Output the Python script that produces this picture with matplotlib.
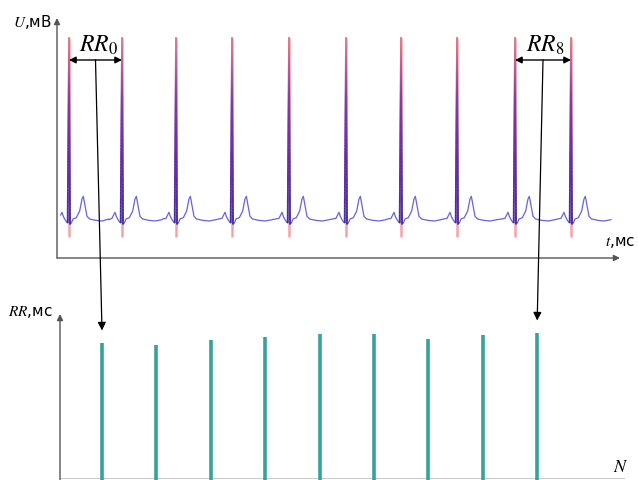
import numpy as np
import matplotlib
matplotlib.use("Agg")
import matplotlib.pyplot as plt
from matplotlib.collections import LineCollection
from matplotlib.colors import LinearSegmentedColormap
from matplotlib.patches import ConnectionPatch

plt.rcParams['font.family'] = ['DejaVu Sans']
plt.rcParams['mathtext.fontset'] = 'stix'

# R-peak times, ms
r_peaks_ms = [0, 795, 1605, 2445, 3300, 4155, 4980, 5820, 6690, 7530]
# one beat: offset from R (ms), amplitude (mV)
beat_t = [-200, -150, -125, -105, -85, -65, -40, -20, 0, 15, 35, 60,
          110, 160, 195, 215, 240, 270, 310, 400, 500, 600]
beat_u = [0.0, 0.005, 0.03, 0.05, 0.02, 0.0, -0.02, -0.03, 1.36, -0.04, -0.03, 0.0,
          0.01, 0.06, 0.15, 0.17, 0.10, 0.02, 0.0, -0.01, -0.015, -0.005]
t_start, t_end = -135, 8160
# RR intervals shown in the lower panel, ms
rr_ms = [810, 798, 828, 846, 864, 864, 834, 858, 870]
rr_labels = {0: "$RR_0$", 8: "$RR_8$"}

W, H = 638, 480
fig = plt.figure(figsize=(W / 100, H / 100), dpi=100)


def box(x0, y0, x1, y1):
    # pixel box (top-left origin) -> figure rect
    return [x0 / W, 1 - y1 / H, (x1 - x0) / W, (y1 - y0) / H]


ax_top = fig.add_axes(box(57, 18, 620, 258))
ax_bot = fig.add_axes(box(60, 314, 625, 480))
for ax in (ax_top, ax_bot):
    ax.set_axis_off()

px_ms, px_mv = 15.0, 0.0075
ax_top.set_xlim(t_start - 45, t_start - 45 + 563 * px_ms)
ax_top.set_ylim(-39 * px_mv, 201 * px_mv)

# build ECG from the beat template
ts, us = [], []
for r in r_peaks_ms:
    for dt, u in zip(beat_t, beat_u):
        if t_start <= r + dt <= t_end:
            ts.append(r + dt)
            us.append(u)
ts = np.array(ts)
us = np.array(us)
order = np.argsort(ts)
ts, us = ts[order], us[order]

ax_top.vlines(r_peaks_ms, -0.135, max(beat_u), color='#f29a9a', lw=1.8, alpha=0.9, zorder=1)
ax_top.plot(ts, us, color='#6464dc', lw=0.9, zorder=2)

# gradient on R spikes
cmap = LinearSegmentedColormap.from_list('spk', ['#4a2a9a', '#6a2aa0', '#8a3aa0', '#e08090'])
i_q, i_r, i_s = beat_t.index(-20), beat_t.index(0), beat_t.index(15)
for r in r_peaks_ms:
    for a, b in ((i_q, i_r), (i_r, i_s)):
        x = np.linspace(r + beat_t[a], r + beat_t[b], 60)
        y = np.linspace(beat_u[a], beat_u[b], 60)
        pts = np.column_stack([x, y]).reshape(-1, 1, 2)
        seg = np.concatenate([pts[:-1], pts[1:]], axis=1)
        lc = LineCollection(seg, cmap=cmap, norm=plt.Normalize(0, 1.36), lw=1.3, zorder=3)
        lc.set_array((y[:-1] + y[1:]) / 2)
        ax_top.add_collection(lc)

# axes arrows
ax_col = '#555555'
ap = dict(arrowstyle='-|>', color=ax_col, lw=1.0, mutation_scale=9, shrinkA=0, shrinkB=0)
ax_top.annotate('', xy=(0, 1), xytext=(0, 0), xycoords='axes fraction', arrowprops=ap)
ax_top.annotate('', xy=(1, 0), xytext=(0, 0), xycoords='axes fraction', arrowprops=ap)
ax_bot.annotate('', xy=(0, 1), xytext=(0, 0), xycoords='axes fraction', arrowprops=ap)
ax_bot.plot([0, 1], [0.012, 0.012], transform=ax_bot.transAxes, color='#cccccc', lw=0.8)

fig.text(52 / W, 1 - 22 / H, '$U$,мВ', ha='right', va='center', fontsize=11)
fig.text(605 / W, 1 - 243 / H, '$t$,мс', ha='left', va='center', fontsize=11)
fig.text(53 / W, 1 - 312 / H, '$RR$,мс', ha='right', va='center', fontsize=11)
fig.text(621 / W, 1 - 467 / H, '$N$', ha='center', va='center', fontsize=13)

# lower panel: RR bars
n = np.arange(len(rr_ms))
px_n, px_rr = 54.4, 6.0
ax_bot.set_xlim(-42 / px_n, -42 / px_n + 565 / px_n)
ax_bot.set_ylim(-2 * px_rr, 164 * px_rr)
ax_bot.vlines(n, -2 * px_rr, rr_ms, color='#35a39c', lw=2.6)

# RR brackets and links
arrow_y = 159 * px_mv
for i, lab in rr_labels.items():
    a, b = r_peaks_ms[i], r_peaks_ms[i + 1]
    mid = (a + b) / 2
    ax_top.annotate('', xy=(b, arrow_y), xytext=(a, arrow_y),
                    arrowprops=dict(arrowstyle='<|-|>', color='black', lw=1.0,
                                    mutation_scale=10, shrinkA=0, shrinkB=0))
    ax_top.text(mid + 40, arrow_y + 0.11, lab, ha='center', va='center', fontsize=17)
    con = ConnectionPatch(xyA=(mid, arrow_y), coordsA=ax_top.transData,
                          xyB=(i, rr_ms[i] + 75), coordsB=ax_bot.transData,
                          arrowstyle='-|>', color='black', lw=0.9, mutation_scale=12)
    fig.add_artist(con)

fig.savefig('out.png', dpi=100)
